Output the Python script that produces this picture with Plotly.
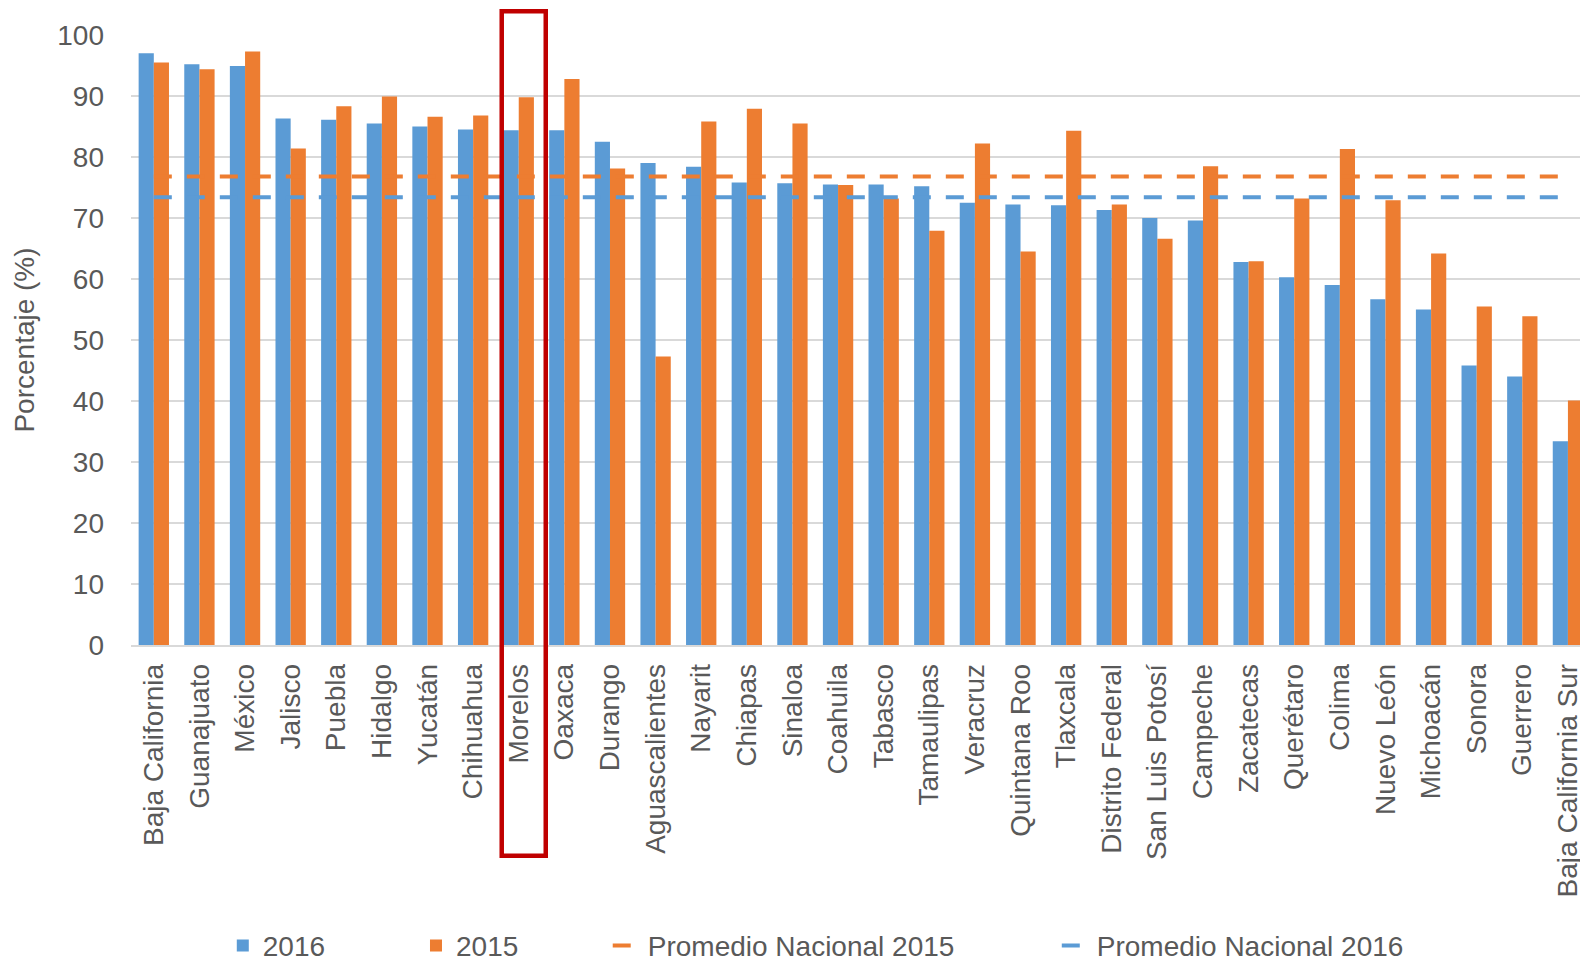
import plotly.graph_objects as go

states = ["Baja California", "Guanajuato", "México", "Jalisco", "Puebla", "Hidalgo",
          "Yucatán", "Chihuahua", "Morelos", "Oaxaca", "Durango", "Aguascalientes",
          "Nayarit", "Chiapas", "Sinaloa", "Coahuila", "Tabasco", "Tamaulipas",
          "Veracruz", "Quintana Roo", "Tlaxcala", "Distrito Federal", "San Luis Potosí",
          "Campeche", "Zacatecas", "Querétaro", "Colima", "Nuevo León", "Michoacán",
          "Sonora", "Guerrero", "Baja California Sur"]

v2016 = [97.0, 95.2, 94.9, 86.3, 86.1, 85.5, 85.0, 84.5, 84.4, 84.4, 82.5, 79.0,
         78.4, 75.8, 75.7, 75.5, 75.5, 75.2, 72.5, 72.2, 72.1, 71.3, 70.0, 69.6,
         62.8, 60.3, 59.0, 56.7, 55.0, 45.8, 44.0, 33.4]
v2015 = [95.5, 94.4, 97.3, 81.4, 88.3, 89.9, 86.6, 86.8, 89.8, 92.8, 78.1, 47.3,
         85.8, 87.9, 85.5, 75.4, 73.2, 67.9, 82.2, 64.5, 84.3, 72.2, 66.6, 78.5,
         62.9, 73.2, 81.3, 72.9, 64.2, 55.5, 53.9, 40.1]
prom_2015 = 76.8
prom_2016 = 73.4
highlight = "Morelos"

yticks = [0, 10, 20, 30, 40, 50, 60, 70, 80, 90, 100]

BLUE = "#5B9BD5"
ORANGE = "#ED7D31"
GREY = "#595959"
FONT = "Liberation Sans, Arial, sans-serif"
FS = 28

fig = go.Figure()
fig.add_trace(go.Bar(x=states, y=v2016, name="2016",
                     marker=dict(color=BLUE, line=dict(width=0)), legend="legend"))
fig.add_trace(go.Bar(x=states, y=v2015, name="2015",
                     marker=dict(color=ORANGE, line=dict(width=0)), legend="legend2"))
fig.add_trace(go.Scatter(x=states, y=[prom_2015] * len(states), mode="lines",
                         name="Promedio Nacional 2015",
                         line=dict(color=ORANGE, width=4, dash="18px,15px"),
                         legend="legend3"))
fig.add_trace(go.Scatter(x=states, y=[prom_2016] * len(states), mode="lines",
                         name="Promedio Nacional 2016",
                         line=dict(color=BLUE, width=4, dash="18px,15px"),
                         legend="legend4"))

idx = states.index(highlight)
fig.add_shape(type="rect", xref="x", yref="paper",
              x0=idx - 0.373, x1=idx + 0.592, y0=-0.3456, y1=1.039,
              line=dict(color="#C00000", width=4.5), fillcolor="rgba(0,0,0,0)")

leg_common = dict(orientation="h", yanchor="top", y=-0.452, xanchor="left",
                  font=dict(family=FONT, size=FS, color=GREY), bgcolor="rgba(0,0,0,0)")

fig.update_layout(
    width=1580, height=955,
    margin=dict(l=123, r=0, t=27, b=318, autoexpand=False),
    paper_bgcolor="white", plot_bgcolor="white",
    barmode="group", bargap=0.335, bargroupgap=0,
    showlegend=True,
    font=dict(family=FONT, size=FS, color=GREY),
    legend=dict(x=0.063, **leg_common),
    legend2=dict(x=0.1956, **leg_common),
    legend3=dict(x=0.3272, **leg_common),
    legend4=dict(x=0.6354, **leg_common),
    xaxis=dict(tickangle=-90, showgrid=False, showline=True, linecolor="#D9D9D9",
               linewidth=1.5, ticks="", automargin=False, ticklabelstandoff=6,
               tickfont=dict(family=FONT, size=FS, color=GREY),
               range=[-0.5, len(states) - 0.56]),
    yaxis=dict(range=[0, 100], tickvals=yticks, showgrid=True, gridcolor="#D9D9D9",
               gridwidth=1.5, zeroline=False, showline=False, ticks="",
               automargin=False, ticklabelstandoff=26,
               tickfont=dict(family=FONT, size=FS, color=GREY),
               title=dict(text="Porcentaje (%)", font=dict(family=FONT, size=FS, color=GREY),
                          standoff=14)),
)

fig.write_html("out.html")
